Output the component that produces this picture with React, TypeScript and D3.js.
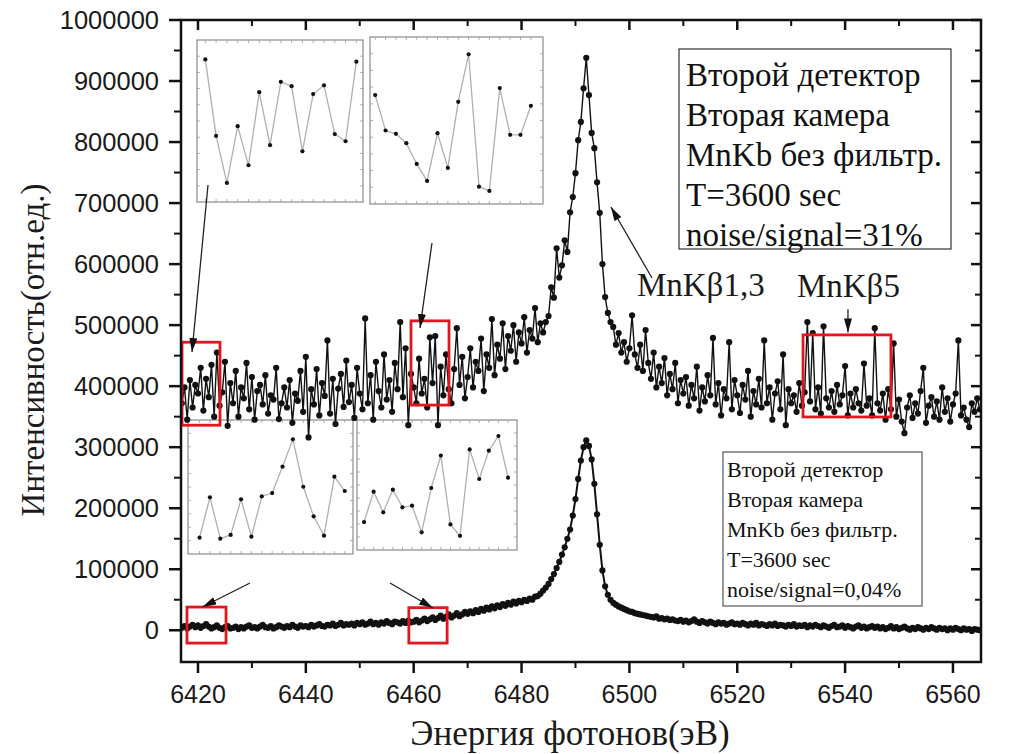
import React from 'react';
import * as d3 from 'd3';

// ---------- DATA ----------
// Energy grid of both spectra (eV)
const energyStart = 6417;
const energyStep = 0.5;

// Upper spectrum (noise/signal = 31%), intensity in thousands
const noisySpectrum: number[] = [
  372, 398, 345, 410, 365, 402, 388, 430, 360, 412, 382, 435, 350, 455, 368, 390,
  440, 335, 405, 372, 425, 350, 398, 380, 438, 362,
  415, 345, 392, 402, 370, 418, 355, 385, 378, 430,
  346, 372, 398, 365, 410, 340, 388, 376, 425, 358,
  448, 316, 395, 370, 428, 352, 405, 384, 475, 355,
  412, 338, 396, 420, 366, 442, 374, 402, 348, 430,
  388, 362, 511, 372, 418, 345, 440, 392, 365, 452,
  378, 410, 358, 438, 395, 505, 382, 462, 336, 420,
  398, 372, 445, 388, 412, 365, 480, 405, 482, 336,
  432, 385, 452, 395, 372, 428, 495, 402, 448, 380,
  415, 462, 398, 440, 425, 478, 392, 452, 430, 510,
  418, 468, 445, 503, 428, 482, 458, 500, 440, 488,
  470, 513, 455, 492, 478, 528, 472, 503, 488, 505,
  515, 562, 545, 626, 578, 598, 639, 620, 685, 710,
  749, 803, 833, 888, 938, 877, 815, 790, 734, 684,
  600, 546, 520, 505, 497, 468, 487, 455, 472, 440,
  462, 516, 452, 430, 468, 425, 492, 438, 412, 455,
  398, 432, 405, 446, 385, 420, 395, 438, 372, 410,
  388, 415, 368, 402, 380, 432, 360, 398, 375, 418,
  385, 479, 370, 405, 352, 395, 380, 472, 362, 410,
  385, 356, 402, 378, 425, 350, 392, 370, 412, 365,
  475, 372, 398, 345, 388, 408, 362, 452, 336, 395,
  372, 385, 358, 405, 368, 390, 505, 375, 487, 362,
  398, 355, 498, 380, 365, 392, 358, 402, 370, 385,
  433, 352, 388, 365, 395, 372, 360, 437, 368, 380,
  352, 495, 372, 360, 388, 345, 395, 362, 470, 350,
  378, 342, 323, 365, 385, 348, 372, 355, 392, 430,
  340, 368, 382, 350, 375, 345, 398, 358, 380, 342,
  370, 388, 475, 352, 365, 345, 333, 372, 358, 380, 362,
];

// Lower spectrum (noise/signal = 0,04%), intensity in thousands
const cleanSpectrum: number[] = [
  4, 7, 3, 6, 9, 5, 8, 4, 7, 10, 6, 3, 5, 8, 4, 2,
  5, 7, 3, 4, 6, 2, 5, 3, 6, 8, 4, 5, 3, 6, 9, 5, 4, 7, 3, 5, 8, 6, 4, 7, 5, 9, 6, 4, 8, 6,
  7, 5, 9, 6, 8, 10, 7, 6, 9, 8, 11, 7, 9, 12, 8, 10, 9, 11, 8, 12,
  10, 13, 9, 11, 14, 10, 12, 9, 13, 11, 15, 12, 10, 14, 13, 11, 15, 12, 16, 13,
  14, 17, 13, 16, 19, 15, 18, 21, 17, 20, 24, 19, 22, 26, 21, 24, 28, 23, 26, 30,
  27, 31, 28, 33, 30, 35, 32, 37, 34, 39, 36, 41, 38, 43, 40, 45, 42, 47, 44, 48,
  46, 50, 48, 52, 50, 55, 56, 60, 65, 70, 76, 84, 92, 102, 112, 124, 136, 150, 165, 188,
  215, 248, 278, 300, 311, 302, 280, 240, 190, 140, 98, 72, 58, 50, 45, 42, 39, 37, 35, 33,
  31, 30, 28, 27, 26, 25, 24, 23, 22, 21, 23, 19, 20, 18, 19, 17, 18, 16, 15, 17,
  14, 16, 13, 15, 18, 14, 12, 15, 13, 11, 14, 12, 10, 13, 11, 12, 9, 11, 13, 10,
  11, 9, 12, 10, 8, 11, 9, 12, 8, 10, 9, 7, 10, 8, 11, 7, 9, 8, 6, 9,
  7, 10, 6, 8, 7, 9, 5, 8, 6, 9, 7, 5, 8, 6, 4, 7, 9, 5, 6, 8,
  4, 7, 5, 3, 6, 8, 4, 6, 3, 5, 7, 4, 6, 3, 5, 2, 4, 7, 3, 5,
  2, 4, 6, 3, 1, 4, 2, 5, 3, 1, 4, 2, 5, 3, 1, 4, 2, 3, 0, 3,
  1, 4, 2, 0, 3, 1, 2, -1, 2, 1, 0,
];

const xTicks = [6420, 6440, 6460, 6480, 6500, 6520, 6540, 6560];
const xMinorTicks = [6430, 6450, 6470, 6490, 6510, 6530, 6550];
const yTicks = [0, 100000, 200000, 300000, 400000, 500000, 600000, 700000, 800000, 900000, 1000000];
const yMinorTicks = [50000, 150000, 250000, 350000, 450000, 550000, 650000, 750000, 850000, 950000];

// Zoomed insets (relative intensity, 0..100)
const insetTopLeft = [88.0, 40.8, 11.8, 46.8, 22.7, 67.8, 35.1, 74.2, 71.5, 31.3, 66.6, 72.0, 41.9, 37.5, 86.6];
const insetTopMid = [65.2, 44.0, 42.0, 36.4, 24.0, 13.8, 42.4, 21.6, 61.2, 89.6, 10.4, 7.8, 69.4, 41.4, 41.4, 58.8];
const insetBottomLeft = [12.2, 42.3, 11.4, 14.2, 40.8, 12.9, 43.0, 45.5, 65.2, 85.6, 50.2, 28.1, 13.7, 57.7, 47.0];
const insetBottomMid = [21.5, 44.9, 29.0, 46.4, 32.8, 34.1, 13.6, 47.7, 72.6, 19.7, 10.9, 77.4, 54.6, 76.4, 87.7, 55.6];

const topBoxLines = ['Второй детектор', 'Вторая камера', 'MnKb без фильтр.', 'T=3600 sec', 'noise/signal=31%'];
const bottomBoxLines = ['Второй детектор', 'Вторая камера', 'MnKb без фильтр.', 'T=3600 sec', 'noise/signal=0,04%'];

// Highlighted regions (energy range, intensity range)
const redRegions = [
  { e0: 6417.04, e1: 6424.08, v0: 336000, v1: 472000 },
  { e0: 6459.5, e1: 6466.55, v0: 369000, v1: 507000 },
  { e0: 6532.2, e1: 6548.5, v0: 349500, v1: 484000 },
  { e0: 6417.96, e1: 6425.2, v0: -21000, v1: 38000 },
  { e0: 6459.1, e1: 6466.2, v0: -21000, v1: 37000 },
];

// Arrows (from -> to, in data coordinates)
const arrows = [
  { e0: 6421.86, v0: 729600, e1: 6418.89, v1: 456000 },
  { e0: 6463.39, v0: 634600, e1: 6461.17, v1: 495300 },
  { e0: 6429.64, v0: 77400, e1: 6420.82, v1: 38100 },
  { e0: 6455.6, v0: 77400, e1: 6463.58, v1: 36500 },
  { e0: 6504.19, v0: 577200, e1: 6496.58, v1: 693600 },
  { e0: 6540.53, v0: 526000, e1: 6540.53, v1: 488000 },
];

const peakLabels = [
  { text: 'MnKβ1,3', e: 6501.4, v: 547700 },
  { text: 'MnKβ5', e: 6531.07, v: 546000 },
];

// ---------- COMPONENTS ----------
type Box = { x0: number; y0: number; x1: number; y1: number; p0: number; p1: number };

function Inset({ box, values }: { box: Box; values: number[] }) {
  const w = box.x1 - box.x0;
  const xs = d3.scaleLinear().domain([0, values.length - 1]).range([box.x0 + box.p0 * w, box.x0 + box.p1 * w]);
  const ys = d3.scaleLinear().domain([0, 100]).range([box.y1, box.y0]);
  const line = d3.line<number>().x((_, i) => xs(i)).y((d) => ys(d));
  const vt = d3.range(1, 10).map((k) => box.y0 + ((box.y1 - box.y0) * k) / 10);
  const ht = values.map((_, i) => xs(i));
  return (
    <g>
      <rect x={box.x0} y={box.y0} width={w} height={box.y1 - box.y0} fill="white" stroke="#8a8a8a" strokeWidth={1.2} />
      {vt.map((t, i) => (
        <g key={'v' + i} stroke="#9a9a9a" strokeWidth={0.8}>
          <line x1={box.x0} x2={box.x0 + 3} y1={t} y2={t} />
          <line x1={box.x1} x2={box.x1 - 3} y1={t} y2={t} />
        </g>
      ))}
      {ht.map((t, i) => (
        <g key={'h' + i} stroke="#9a9a9a" strokeWidth={0.8}>
          <line x1={t} x2={t} y1={box.y0} y2={box.y0 + 3} />
          <line x1={t} x2={t} y1={box.y1} y2={box.y1 - 3} />
        </g>
      ))}
      <path d={line(values) || ''} fill="none" stroke="#b0b0b0" strokeWidth={1.3} />
      {values.map((v, i) => (
        <circle key={i} cx={xs(i)} cy={ys(v)} r={2.1} fill="#111" />
      ))}
    </g>
  );
}

export default function App() {
  const W = 1015;
  const H = 754;
  const left = 181, right = 981, top = 20, bottom = 662;
  const x = d3.scaleLinear().domain([6416.85, 6565.2]).range([left, right]);
  const y = d3.scaleLinear().domain([-52000, 1000000]).range([bottom, top]);

  type P = { e: number; v: number };
  const toPts = (arr: number[]): P[] => arr.map((v, i) => ({ e: energyStart + i * energyStep, v: v * 1000 }));
  const topPts = toPts(noisySpectrum);
  const botPts = toPts(cleanSpectrum);
  const line = d3.line<P>().x((d) => x(d.e)).y((d) => y(d.v));

  const sans = '"Liberation Sans", Arial, sans-serif';
  const serif = '"Liberation Serif", "Times New Roman", serif';
  const red = '#e2161d';

  const insetBoxes: Box[] = [
    { x0: 197, y0: 40, x1: 363, y1: 202, p0: 0.05, p1: 0.96 },
    { x0: 370, y0: 37, x1: 543, y1: 204, p0: 0.03, p1: 0.93 },
    { x0: 188, y0: 420, x1: 353, y1: 554, p0: 0.07, p1: 0.95 },
    { x0: 357, y0: 420, x1: 517, y1: 550, p0: 0.044, p1: 0.944 },
  ];
  const insetData = [insetTopLeft, insetTopMid, insetBottomLeft, insetBottomMid];

  return (
    <svg width={W} height={H} style={{ position: 'absolute', left: 0, top: 0, background: 'white' }}>
      <defs>
        <clipPath id="plotClip">
          <rect x={left} y={top} width={right - left} height={bottom - top} />
        </clipPath>
        <marker id="ah" viewBox="0 0 14 8" refX={14} refY={4} markerWidth={14} markerHeight={8}
          markerUnits="userSpaceOnUse" orient="auto">
          <path d="M0,0 L14,4 L0,8 Z" fill="#111" />
        </marker>
      </defs>
      <rect x={0} y={0} width={W} height={H} fill="white" />

      {insetBoxes.map((b, i) => (
        <Inset key={i} box={b} values={insetData[i]} />
      ))}

      <g clipPath="url(#plotClip)">
        <path d={line(topPts) || ''} fill="none" stroke="#111" strokeWidth={1.4} />
        {topPts.map((d, i) => (
          <circle key={'t' + i} cx={x(d.e)} cy={y(d.v)} r={3.1} fill="#111" />
        ))}
        <path d={line(botPts) || ''} fill="none" stroke="#111" strokeWidth={2} />
        {botPts.map((d, i) => (
          <circle key={'b' + i} cx={x(d.e)} cy={y(d.v)} r={3.1} fill="#111" />
        ))}
      </g>

      {redRegions.map((r, i) => (
        <rect key={i} x={x(r.e0)} y={y(r.v1)} width={x(r.e1) - x(r.e0)} height={y(r.v0) - y(r.v1)}
          fill="none" stroke={red} strokeWidth={2.8} />
      ))}

      {/* frame */}
      <rect x={left} y={top} width={right - left} height={bottom - top} fill="none" stroke="#111" strokeWidth={2.5} />
      {/* y ticks */}
      {yTicks.map((t) => (
        <g key={'y' + t}>
          <line x1={left - 12} x2={left} y1={y(t)} y2={y(t)} stroke="#111" strokeWidth={2.5} />
          <line x1={right} x2={right - 10} y1={y(t)} y2={y(t)} stroke="#111" strokeWidth={2.5} />
          <text x={159} y={y(t)} dy="0.36em" textAnchor="end" fontFamily={sans} fontSize={25.5} fill="#1a1a1a">
            {t}
          </text>
        </g>
      ))}
      {yMinorTicks.map((t) => (
        <g key={'ym' + t}>
          <line x1={left - 7} x2={left} y1={y(t)} y2={y(t)} stroke="#111" strokeWidth={2} />
          <line x1={right} x2={right - 6} y1={y(t)} y2={y(t)} stroke="#111" strokeWidth={2} />
        </g>
      ))}
      {/* x ticks */}
      {xTicks.map((t) => (
        <g key={'x' + t}>
          <line x1={x(t)} x2={x(t)} y1={bottom} y2={bottom + 11} stroke="#111" strokeWidth={2.5} />
          <line x1={x(t)} x2={x(t)} y1={top} y2={top + 10} stroke="#111" strokeWidth={2.5} />
          <text x={x(t)} y={703} textAnchor="middle" fontFamily={sans} fontSize={25} fill="#1a1a1a">
            {t}
          </text>
        </g>
      ))}
      {xMinorTicks.map((t) => (
        <g key={'xm' + t}>
          <line x1={x(t)} x2={x(t)} y1={bottom} y2={bottom + 6} stroke="#111" strokeWidth={2} />
          <line x1={x(t)} x2={x(t)} y1={top} y2={top + 6} stroke="#111" strokeWidth={2} />
        </g>
      ))}

      {/* axis titles */}
      <text x={570} y={745} textAnchor="middle" fontFamily={serif} fontSize={35} fill="#1a1a1a">
        Энергия фотонов(эВ)
      </text>
      <text transform="translate(44,350) rotate(-90)" textAnchor="middle" fontFamily={serif} fontSize={33} fill="#1a1a1a">
        Интенсивность(отн.ед.)
      </text>

      {/* text boxes */}
      <rect x={679} y={49} width={272} height={200} fill="white" stroke="#333" strokeWidth={1.2} />
      {topBoxLines.map((s, i) => (
        <text key={'tb' + i} x={686} y={86 + i * 40} fontFamily={serif} fontSize={33} fill="#111">
          {s}
        </text>
      ))}
      <rect x={723} y={452} width={199} height={154} fill="white" stroke="#555" strokeWidth={1.2} />
      {bottomBoxLines.map((s, i) => (
        <text key={'bb' + i} x={727} y={477 + i * 30} fontFamily={serif} fontSize={22} fill="#111">
          {s}
        </text>
      ))}

      {/* peak labels */}
      {peakLabels.map((l, i) => (
        <text key={'pl' + i} x={x(l.e)} y={y(l.v)} fontFamily={serif} fontSize={33} fill="#1a1a1a">
          {l.text}
        </text>
      ))}

      {/* arrows */}
      {arrows.map((a, i) => (
        <line key={'a' + i} x1={x(a.e0)} y1={y(a.v0)} x2={x(a.e1)} y2={y(a.v1)} stroke="#222" strokeWidth={1.3}
          markerEnd="url(#ah)" />
      ))}
    </svg>
  );
}
